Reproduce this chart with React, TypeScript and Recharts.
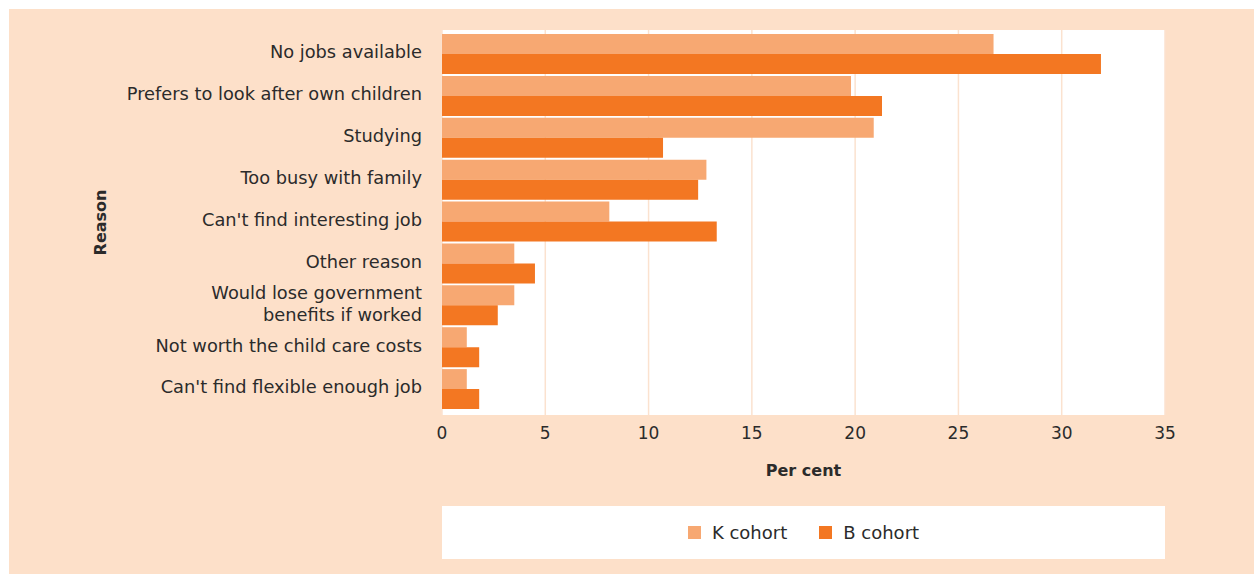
import { BarChart, Bar, XAxis, YAxis, CartesianGrid, Legend } from 'recharts';

const reasons = [
    'No jobs available',
    'Prefers to look after own children',
    'Studying',
    'Too busy with family',
    "Can't find interesting job",
    'Other reason',
    'Would lose government\nbenefits if worked',
    'Not worth the child care costs',
    "Can't find flexible enough job",
];
const kCohort = [26.7, 19.8, 20.9, 12.8, 8.1, 3.5, 3.5, 1.2, 1.2];
const bCohort = [31.9, 21.3, 10.7, 12.4, 13.3, 4.5, 2.7, 1.8, 1.8];
const seriesNames = ['K cohort', 'B cohort'];
const xTicks = [0, 5, 10, 15, 20, 25, 30, 35];

const data = reasons.map((reason, i) => ({ reason, k: kCohort[i], b: bCohort[i] }));

const PEACH = '#FDE0C9';
const LIGHT = '#F7A872';
const DARK = '#F37722';
const INK = '#2b2b2b';
const FONT = '"DejaVu Sans", sans-serif';

const ReasonTick = ({ x, y, payload }: any) => {
    const lines = String(payload.value).split('\n');
    const lh = 22;
    const start = y - ((lines.length - 1) * lh) / 2 - 2;
    return (
        <text x={x} y={start} textAnchor="end" fill={INK} fontSize={17.8} fontFamily={FONT}>
            {lines.map((line, i) => (
                <tspan key={i} x={x} dy={i === 0 ? '0.36em' : lh}>
                    {line}
                </tspan>
            ))}
        </text>
    );
};

const YTitle = ({ viewBox }: any) => {
    const x = 91;
    const y = viewBox.y + viewBox.height / 2;
    return (
        <text
            x={x}
            y={y}
            transform={`rotate(-90, ${x}, ${y})`}
            textAnchor="middle"
            dominantBaseline="central"
            fill={INK}
            fontSize={16}
            fontWeight="bold"
            fontFamily={FONT}
        >
            Reason
        </text>
    );
};

const XTitle = ({ viewBox }: any) => (
    <text
        x={viewBox.x + viewBox.width / 2}
        y={viewBox.y + 55}
        textAnchor="middle"
        dominantBaseline="central"
        fill={INK}
        fontSize={16}
        fontWeight="bold"
        fontFamily={FONT}
    >
        Per cent
    </text>
);

const renderLegend = ({ payload }: any) => {
    const items = [...(payload || [])].sort(
        (a: any, b: any) => seriesNames.indexOf(a.value) - seriesNames.indexOf(b.value)
    );
    return (
        <div
            style={{
                width: 723,
                height: 53,
                background: '#fff',
                display: 'flex',
                justifyContent: 'center',
                alignItems: 'center',
                gap: 32,
                fontFamily: FONT,
                fontSize: 18,
                color: INK,
            }}
        >
            {items.map((entry: any) => (
                <div key={entry.value} style={{ display: 'flex', alignItems: 'center', gap: 11 }}>
                    <span style={{ width: 13, height: 13, background: entry.color, display: 'inline-block' }} />
                    <span>{entry.value}</span>
                </div>
            ))}
        </div>
    );
};

export default function App() {
    return (
        <div style={{ position: 'absolute', left: 9, top: 9, width: 1245, height: 565, background: PEACH }}>
            <BarChart
                width={1245}
                height={565}
                data={data}
                layout="vertical"
                barGap={0}
                barCategoryGap={1}
                margin={{ top: 21, right: 89, left: 0, bottom: 99 }}
            >
                <CartesianGrid
                    horizontal={false}
                    fill="#ffffff"
                    stroke="#FBE2CF"
                    strokeWidth={1.5}
                />
                <XAxis
                    type="number"
                    domain={[0, 35]}
                    ticks={xTicks}
                    height={60}
                    axisLine={false}
                    tickLine={false}
                    tickSize={0}
                    tickMargin={12}
                    tick={{ fill: INK, fontSize: 17, fontFamily: FONT }}
                    label={{ content: XTitle }}
                />
                <YAxis
                    type="category"
                    dataKey="reason"
                    width={433}
                    padding={{ top: 3, bottom: 5 }}
                    axisLine={false}
                    tickLine={false}
                    tickSize={0}
                    tickMargin={20}
                    interval={0}
                    tick={<ReasonTick />}
                    label={{ content: YTitle }}
                />
                <Bar dataKey="k" name={seriesNames[0]} fill={LIGHT} isAnimationActive={false} />
                <Bar dataKey="b" name={seriesNames[1]} fill={DARK} isAnimationActive={false} />
                <Legend
                    layout="horizontal"
                    verticalAlign="middle"
                    align="center"
                    content={renderLegend}
                    wrapperStyle={{ left: 433, top: 497, width: 723, height: 53 }}
                />
            </BarChart>
        </div>
    );
}
